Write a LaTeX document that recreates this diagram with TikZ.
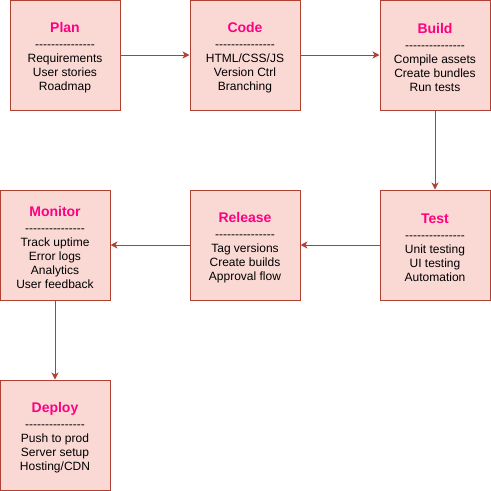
\documentclass[tikz,border=0pt]{standalone}
\usepackage{fontspec}
\setmainfont{Liberation Sans}[Ligatures=TeXOff]
\usetikzlibrary{arrows.meta}
\definecolor{boxfill}{HTML}{FAD9D5}
\definecolor{boxline}{HTML}{AE4132}
\definecolor{titlepink}{HTML}{FF0080}
\newcommand{\stagetitle}[1]{{\color{titlepink}\bfseries\fontsize{14}{16}\selectfont\rule{0pt}{14.5pt}#1}\\[2pt]---------------}
\begin{document}
\begin{tikzpicture}[x=1pt, y=-1pt,
    stage/.style={draw=boxline, fill=boxfill, line width=1pt, minimum width=110pt, minimum height=110pt,
        inner sep=0pt, align=center, font=\fontsize{12}{14}\selectfont},
    flow/.style={draw=boxline, line width=1pt, -{Stealth[length=7pt, width=7pt, inset=2pt]}}]
    \useasboundingbox (0,0) rectangle (491,491);

    % Top row
    \node[stage] (plan) at (65,55) {\stagetitle{Plan}\\Requirements\\User stories\\Roadmap};
    \node[stage] (code) at (245,55) {\stagetitle{Code}\\HTML/CSS/JS\\Version Ctrl\\Branching};
    \node[stage] (build) at (435,55) {\stagetitle{Build}\\Compile assets\\Create bundles\\Run tests};

    % Middle row
    \node[stage] (test) at (435,245) {\stagetitle{Test}\\Unit testing\\UI testing\\Automation};
    \node[stage] (release) at (245,245) {\stagetitle{Release}\\Tag versions\\Create builds\\Approval flow};
    \node[stage] (monitor) at (55,245) {\stagetitle{Monitor}\\Track uptime\\Error logs\\Analytics\\User feedback};

    % Bottom
    \node[stage] (deploy) at (55,435) {\stagetitle{Deploy}\\Push to prod\\Server setup\\Hosting/CDN};

    % Arrows
    \draw[flow] (plan) -- (code);
    \draw[flow] (code) -- (build);
    \draw[flow] (build) -- (test);
    \draw[flow] (test) -- (release);
    \draw[flow] (release) -- (monitor);
    \draw[flow] (monitor) -- (deploy);
\end{tikzpicture}
\end{document}
